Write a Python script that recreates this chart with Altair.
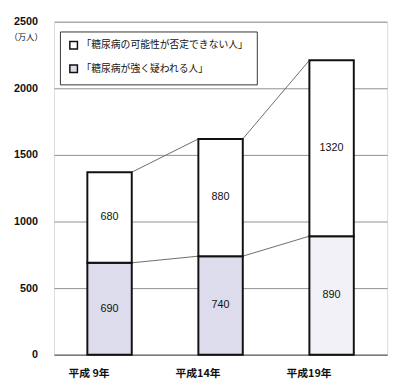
import altair as alt
import pandas as pd

categories = ["平成 9年", "平成14年", "平成19年"]
strong = [690, 740, 890]          # 「糖尿病が強く疑われる人」
possible = [680, 880, 1320]       # 「糖尿病の可能性が否定できない人」
series_names = ["「糖尿病の可能性が否定できない人」", "「糖尿病が強く疑われる人」"]
y_ticks = [0, 500, 1000, 1500, 2000, 2500]

rows = []
for i, c in enumerate(categories):
    key_bottom = series_names[1] if i < 2 else "h19"
    rows.append({"cat": c, "y0": 0, "y1": strong[i], "val": strong[i], "key": key_bottom})
    rows.append({"cat": c, "y0": strong[i], "y1": strong[i] + possible[i], "val": possible[i], "key": series_names[0]})
df = pd.DataFrame(rows)
df["mid"] = (df["y0"] + df["y1"]) / 2

lines = []
for i in range(len(categories) - 1):
    lines.append({"a": categories[i], "b": categories[i + 1], "ya": strong[i], "yb": strong[i + 1]})
    lines.append({"a": categories[i], "b": categories[i + 1],
                  "ya": strong[i] + possible[i], "yb": strong[i + 1] + possible[i + 1]})
ldf = pd.DataFrame(lines)

xscale = alt.Scale(domain=categories, paddingInner=0.6, paddingOuter=0.3)
yscale = alt.Scale(domain=[0, 2500], nice=False)

bars = alt.Chart(df).mark_bar(stroke="#111111", strokeWidth=2).encode(
    x=alt.X("cat:N", scale=xscale, sort=categories,
            axis=alt.Axis(title=None, labelAngle=0, tickSize=0, labelPadding=19,
                          labelFont="Noto Sans CJK JP", labelFontSize=11, labelFontWeight="bold",
                          labelColor="#111111", domainColor="#7a7a7a", domainWidth=1.5)),
    y=alt.Y("y0:Q", scale=yscale,
            axis=alt.Axis(values=y_ticks, format="d", title="（万人）", titleAngle=0,
                          titleX=-29, titleY=15,
                          titleAlign="center", titleBaseline="middle",
                          titleFont="Noto Sans CJK JP", titleFontSize=8.5, titleFontWeight="normal",
                          titleColor="#111111",
                          tickSize=0, labelPadding=17, labelFont="Liberation Sans",
                          labelFontSize=11, labelFontWeight="bold", labelColor="#111111",
                          gridColor="#8e8e8e", gridWidth=1, domain=False)),
    y2="y1:Q",
    fill=alt.Fill("key:N",
                  scale=alt.Scale(domain=series_names + ["h19"],
                                  range=["#ffffff", "#dcdcec", "#f1f1f7"]),
                  legend=alt.Legend(values=series_names, title=None, orient="none",
                                    legendX=6, legendY=10, fillColor="#ffffff",
                                    strokeColor="#333333", padding=9,
                                    symbolType="square", symbolSize=60,
                                    symbolStrokeColor="#111111", symbolStrokeWidth=1.5,
                                    labelFont="Noto Sans CJK JP", labelFontSize=10,
                                    labelLimit=300,
                                    labelColor="#111111", rowPadding=10, labelOffset=3)),
)

labels = alt.Chart(df).mark_text(font="Liberation Sans", fontSize=11, color="#111111").encode(
    x=alt.X("cat:N", scale=xscale, sort=categories),
    y=alt.Y("mid:Q", scale=yscale),
    text="val:Q",
)

connectors = alt.Chart(ldf).mark_rule(color="#6a6a6a", strokeWidth=1).encode(
    x=alt.X("a:N", scale=xscale, sort=categories, bandPosition=1),
    x2=alt.X2("b:N", bandPosition=0),
    y=alt.Y("ya:Q", scale=yscale),
    y2="yb:Q",
)

chart = alt.layer(connectors, bars, labels).properties(
    width=340, height=340,
    autosize=alt.AutoSizeParams(type="none"),
    padding={"left": 47, "top": 10, "right": 5, "bottom": 31},
).configure_view(
    fill="#d3d3d3", stroke="#a8a8a8", strokeWidth=1
).configure(background="#ffffff")

chart.save("out.html", embed_options={"renderer": "svg", "actions": False})
